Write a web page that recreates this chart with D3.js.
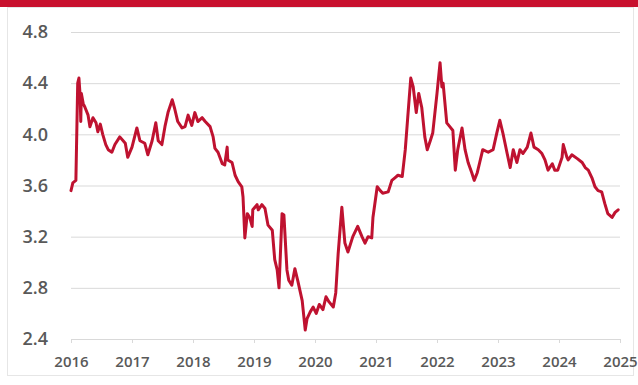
<!DOCTYPE html>
<html>
<head>
<meta charset="utf-8">
<script src="https://cdn.jsdelivr.net/npm/d3@7"></script>
<style>
  html, body { margin: 0; padding: 0; background: #fff; }
</style>
</head>
<body>
<div id="chart"></div>
<script>
// Weekly-ish series, as decimal years and values.
const years = [
  2016.00,2016.03,2016.08,2016.11,2016.13,2016.15,2016.16,2016.17,2016.20,2016.23,
  2016.28,2016.31,2016.36,2016.41,2016.44,2016.48,2016.52,2016.57,2016.61,2016.67,
  2016.72,2016.80,2016.89,2016.93,2017.00,2017.08,2017.13,2017.21,2017.26,2017.33,
  2017.39,2017.43,2017.49,2017.54,2017.59,2017.66,2017.70,2017.75,2017.82,2017.87,
  2017.92,2017.98,2018.03,2018.08,2018.15,2018.20,2018.28,2018.33,2018.36,2018.41,
  2018.48,2018.52,2018.56,2018.57,2018.64,2018.69,2018.74,2018.80,2018.82,2018.85,
  2018.89,2018.93,2018.97,2018.98,2019.05,2019.07,2019.13,2019.18,2019.23,2019.30,
  2019.34,2019.38,2019.41,2019.46,2019.49,2019.54,2019.57,2019.62,2019.67,2019.72,
  2019.79,2019.84,2019.87,2019.92,2019.97,2020.02,2020.07,2020.13,2020.18,2020.23,
  2020.30,2020.34,2020.38,2020.44,2020.49,2020.54,2020.62,2020.70,2020.77,2020.82,
  2020.87,2020.93,2020.95,2021.02,2021.07,2021.11,2021.20,2021.26,2021.31,2021.36,
  2021.43,2021.48,2021.52,2021.57,2021.61,2021.66,2021.70,2021.75,2021.80,2021.84,
  2021.89,2021.93,2022.00,2022.05,2022.08,2022.10,2022.16,2022.21,2022.26,2022.30,
  2022.34,2022.41,2022.46,2022.51,2022.57,2022.61,2022.66,2022.70,2022.75,2022.84,
  2022.92,2022.98,2023.03,2023.08,2023.15,2023.20,2023.25,2023.31,2023.36,2023.41,
  2023.48,2023.54,2023.59,2023.66,2023.72,2023.77,2023.82,2023.89,2023.93,2023.98,
  2024.05,2024.07,2024.13,2024.15,2024.21,2024.30,2024.38,2024.43,2024.48,2024.54,
  2024.59,2024.64,2024.70,2024.75,2024.80,2024.87,2024.92,2024.97
];

const values = [
  3.56,3.62,3.64,4.40,4.44,4.30,4.10,4.32,4.24,4.21,
  4.15,4.06,4.13,4.09,4.02,4.08,4.00,3.92,3.88,3.86,
  3.92,3.98,3.93,3.82,3.90,4.05,3.95,3.93,3.84,3.95,
  4.09,3.95,3.92,4.06,4.17,4.27,4.20,4.10,4.05,4.06,
  4.15,4.07,4.17,4.10,4.13,4.10,4.06,3.98,3.89,3.86,
  3.77,3.76,3.90,3.80,3.78,3.68,3.63,3.59,3.51,3.19,
  3.38,3.35,3.28,3.41,3.45,3.41,3.45,3.42,3.29,3.25,
  3.02,2.94,2.80,3.38,3.37,2.94,2.86,2.82,2.95,2.85,
  2.70,2.47,2.56,2.61,2.65,2.60,2.67,2.63,2.73,2.69,
  2.65,2.76,3.07,3.43,3.15,3.08,3.20,3.28,3.20,3.15,
  3.20,3.19,3.35,3.59,3.56,3.54,3.55,3.64,3.66,3.68,
  3.67,3.88,4.13,4.44,4.37,4.17,4.32,4.21,3.98,3.88,
  3.95,4.01,4.32,4.56,4.37,4.40,4.09,4.06,4.03,3.72,
  3.88,4.05,3.88,3.78,3.70,3.64,3.70,3.78,3.88,3.86,
  3.88,4.01,4.11,4.01,3.85,3.74,3.88,3.78,3.88,3.85,
  3.90,4.01,3.90,3.88,3.85,3.80,3.72,3.77,3.72,3.72,
  3.82,3.92,3.82,3.80,3.84,3.81,3.78,3.74,3.72,3.66,
  3.59,3.56,3.55,3.46,3.38,3.35,3.39,3.41
];

const yTicks = [2.4, 2.8, 3.2, 3.6, 4.0, 4.4, 4.8];
const xTicks = [2016, 2017, 2018, 2019, 2020, 2021, 2022, 2023, 2024, 2025];

const width  = 638;
const height = 385;
const margin = { top: 32, right: 18, bottom: 46, left: 71 };
const chartWidth  = width - margin.left - margin.right;
const chartHeight = height - margin.top - margin.bottom;

const xScale = d3.scaleLinear().domain([2016, 2025]).range([0, chartWidth]);
const yScale = d3.scaleLinear().domain([2.4, 4.8]).range([chartHeight, 0]);

const svg = d3.select("#chart").append("svg")
  .attr("width", width)
  .attr("height", height)
  .style("display", "block");

// red banner across the top
svg.append("rect")
  .attr("x", 0).attr("y", 0)
  .attr("width", width).attr("height", 7)
  .attr("fill", "#c8102e");

// faint panel frame
svg.append("rect")
  .attr("x", 7.5).attr("y", 7.5)
  .attr("width", 626).attr("height", 368)
  .attr("fill", "none")
  .attr("stroke", "#e6e6e6");

const chart = svg.append("g")
  .attr("transform", `translate(${margin.left}, ${margin.top})`);

// gridlines
chart.append("g")
  .call(d3.axisLeft(yScale).tickValues(yTicks).tickSize(-chartWidth).tickFormat(""))
  .call(axis => axis.select(".domain").remove())
  .call(axis => axis.selectAll(".tick line").attr("stroke", "#d9d9d9").attr("stroke-width", 1));

// y labels
chart.append("g")
  .call(d3.axisLeft(yScale).tickValues(yTicks).tickSize(0).tickFormat(d3.format(".1f")))
  .call(axis => axis.select(".domain").remove())
  .call(axis => axis.selectAll(".tick text")
    .attr("fill", "#595959")
    .attr("font-family", "Open Sans, Liberation Sans, sans-serif")
    .attr("font-size", "18px")
    .attr("font-weight", "600")
    .attr("x", -23));

// x axis
chart.append("g")
  .attr("transform", `translate(0, ${chartHeight})`)
  .call(d3.axisBottom(xScale).tickValues(xTicks).tickSize(4).tickFormat(d3.format("d")))
  .call(axis => axis.select(".domain").attr("stroke", "#d9d9d9"))
  .call(axis => axis.selectAll(".tick line").attr("stroke", "#d9d9d9"))
  .call(axis => axis.selectAll(".tick text")
    .attr("fill", "#595959")
    .attr("font-family", "Open Sans, Liberation Sans, sans-serif")
    .attr("font-size", "15px")
    .attr("font-weight", "600")
    .attr("y", 17));

const line = d3.line()
  .x((v, i) => xScale(years[i]))
  .y(v => yScale(v));

chart.append("path")
  .datum(values)
  .attr("fill", "none")
  .attr("stroke", "#bf1230")
  .attr("stroke-width", 3)
  .attr("stroke-linejoin", "round")
  .attr("stroke-linecap", "round")
  .attr("d", line);
</script>
</body>
</html>
